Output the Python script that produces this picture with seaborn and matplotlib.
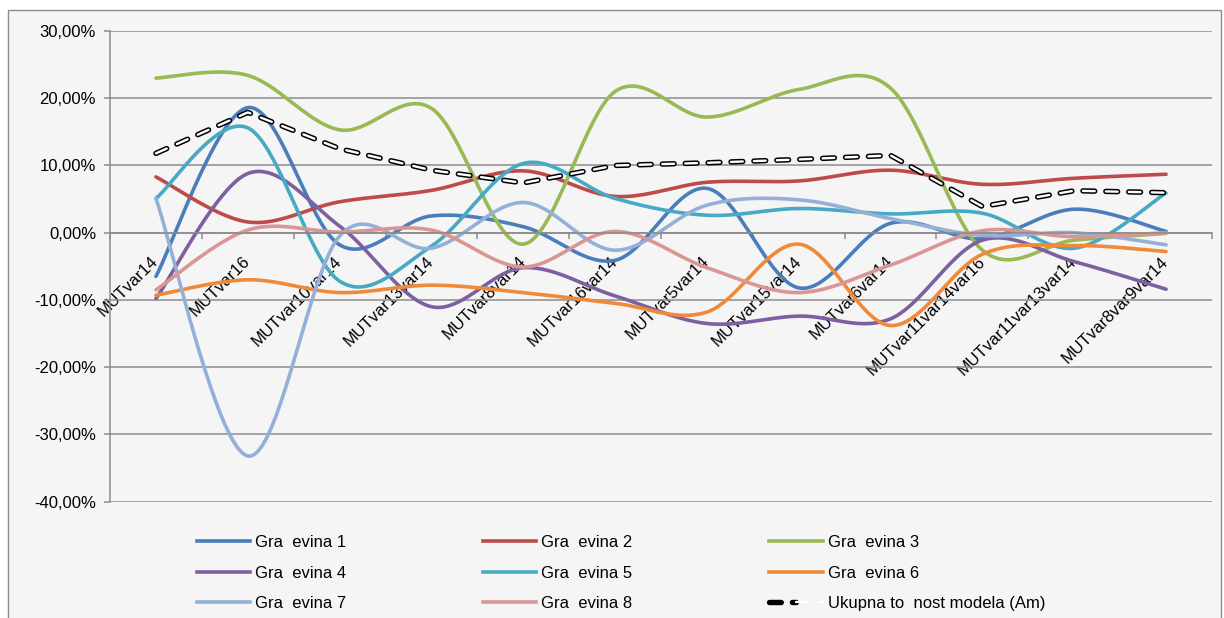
import numpy as np
import pandas as pd
import seaborn as sns
import matplotlib.pyplot as plt
from matplotlib.patches import Rectangle
from matplotlib.lines import Line2D
from matplotlib.legend_handler import HandlerTuple

# kategorije (x os)
categories = ['MUTvar14', 'MUTvar16', 'MUTvar10var14', 'MUTvar13var14', 'MUTvar8var14',
              'MUTvar16var14', 'MUTvar5var14', 'MUTvar15var14', 'MUTvar6var14',
              'MUTvar11var14var16', 'MUTvar11var13var14', 'MUTvar8var9var14']

# vrijednosti u %
gra1 = [-6.5, 18.6, -1.8, 2.5, 0.9, -4.1, 6.6, -8.2, 1.4, -0.9, 3.5, 0.2]
gra2 = [8.3, 1.6, 4.6, 6.3, 9.2, 5.4, 7.5, 7.7, 9.3, 7.2, 8.1, 8.7]
gra3 = [23.0, 23.4, 15.3, 18.5, -1.7, 21.0, 17.2, 21.3, 21.5, -2.6, -1.1, -0.1]
gra4 = [-9.8, 8.8, 1.0, -11.0, -5.2, -9.4, -13.5, -12.4, -12.8, -1.1, -4.3, -8.4]
gra5 = [5.1, 15.6, -7.2, -2.0, 10.3, 5.1, 2.6, 3.6, 2.8, 2.9, -2.3, 5.9]
gra6 = [-9.3, -7.0, -8.9, -7.8, -8.9, -10.5, -11.8, -1.7, -13.8, -3.2, -1.9, -2.8]
gra7 = [5.1, -33.2, -0.5, -2.3, 4.5, -2.6, 4.1, 4.9, 2.1, -0.4, 0.0, -1.8]
gra8 = [-8.5, 0.4, 0.1, 0.4, -5.1, 0.2, -5.2, -8.9, -4.8, 0.3, -0.6, 0.0]
ukupna = [11.8, 17.9, 12.5, 9.3, 7.4, 10.0, 10.4, 10.9, 11.5, 3.9, 6.25, 5.95]

series = [gra1, gra2, gra3, gra4, gra5, gra6, gra7, gra8]
names = ['Gra  evina 1', 'Gra  evina 2', 'Gra  evina 3', 'Gra  evina 4',
         'Gra  evina 5', 'Gra  evina 6', 'Gra  evina 7', 'Gra  evina 8']
ukupna_name = 'Ukupna to  nost modela (Am)'
colors = ['#4A7EBB', '#BE4B48', '#98B954', '#7D60A0',
          '#46AAC5', '#F08A38', '#94B0D9', '#D99694']

ytick_vals = [-40, -30, -20, -10, 0, 10, 20, 30]
ytick_labels = ['-40,00%', '-30,00%', '-20,00%', '-10,00%', '0,00%', '10,00%', '20,00%', '30,00%']

plt.rcParams['font.family'] = ['Liberation Sans', 'DejaVu Sans']
plt.rcParams['lines.scale_dashes'] = False


def smooth(y, n=40):
    # glatka linija kao u Excelu (Bezier segmenti, Catmull-Rom)
    p = np.column_stack([np.arange(len(y), dtype=float), np.asarray(y, dtype=float)])
    p = np.vstack([p[0], p, p[-1]])
    t = np.linspace(0, 1, n)[:, None]
    out = []
    for i in range(1, len(p) - 2):
        p0, p1, p2, p3 = p[i - 1], p[i], p[i + 1], p[i + 2]
        b1 = p1 + (p2 - p0) / 6
        b2 = p2 - (p3 - p1) / 6
        seg = (1 - t) ** 3 * p1 + 3 * (1 - t) ** 2 * t * b1 + 3 * (1 - t) * t ** 2 * b2 + t ** 3 * p2
        out.append(seg if i == 1 else seg[1:])
    out = np.vstack(out)
    return out[:, 0], out[:, 1]


W, H = 1224, 618
fig = plt.figure(figsize=(W / 100, H / 100), dpi=100, facecolor='white')
fig.patches.append(Rectangle((8 / W, -0.05), (1221 - 8) / W, 1.05 - 10 / H,
                             transform=fig.transFigure, facecolor='#f5f5f5',
                             edgecolor='#8c8c8c', lw=1, zorder=-10))

ax = fig.add_axes([110 / W, 1 - 501.7 / H, (1212 - 110) / W, (501.7 - 31) / H])
ax.set_facecolor('#f5f5f5')

lw = 2.6
for vals, c in zip(series, colors):
    xs, ys = smooth(vals)
    sns.lineplot(x=xs, y=ys, color=c, lw=lw, ax=ax, sort=False, estimator=None,
                 solid_capstyle='round')

# ukupna - iscrtkana "suplja" linija
dash = (0, (8.5, 8))
x_idx = np.arange(len(categories))
sns.lineplot(x=x_idx, y=ukupna, color='black', lw=3.9, ax=ax, sort=False, estimator=None,
             linestyle=dash, dash_capstyle='round')
sns.lineplot(x=x_idx, y=ukupna, color='white', lw=1.7, ax=ax, sort=False, estimator=None,
             linestyle=dash, dash_capstyle='round')

# osi
ax.set_ylim(-40, 30)
ax.set_yticks(ytick_vals)
ax.set_yticklabels(ytick_labels)
ax.set_xlim(-0.5, len(categories) - 0.5)
ax.set_xticks(np.arange(-0.5, len(categories), 1), minor=True)
ax.set_xticks(x_idx)
ax.set_xticklabels(categories)
ax.set_xlabel('')
ax.set_ylabel('')

ax.yaxis.grid(True, color='#8c8c8c', lw=1.1)
ax.set_axisbelow(True)
for s in ['top', 'right']:
    ax.spines[s].set_visible(False)
ax.spines['left'].set_color('#8c8c8c')
ax.spines['left'].set_linewidth(1.1)
ax.spines['bottom'].set_position(('data', 0))
ax.spines['bottom'].set_color('#8c8c8c')
ax.spines['bottom'].set_linewidth(1.1)
ax.tick_params(axis='y', direction='out', length=4, width=1.1, color='#8c8c8c',
               pad=6, labelsize=12, labelcolor='black')
ax.tick_params(axis='x', which='major', length=0, pad=19, labelsize=12, labelrotation=45)
ax.tick_params(axis='x', which='minor', direction='out', length=4, width=1.1, color='#8c8c8c')
plt.setp(ax.get_xticklabels(), ha='right', va='center', rotation_mode='anchor')

# legenda
handles = [Line2D([], [], color=c, lw=lw) for c in colors]
h_uk = (Line2D([], [], color='black', lw=3.9, linestyle=dash, dash_capstyle='round'),
        Line2D([], [], color='white', lw=1.7, linestyle=dash, dash_capstyle='round'))
handles.append(h_uk)
labels = names + [ukupna_name]
order = [0, 3, 6, 1, 4, 7, 2, 5, 8]
fig.legend([handles[i] for i in order], [labels[i] for i in order], ncol=3,
           loc='upper left', bbox_to_anchor=(197 / W, 1 - 535 / H), frameon=False,
           fontsize=12, handlelength=3.2, handletextpad=0.3, columnspacing=8.2,
           labelspacing=0.93, borderpad=0, borderaxespad=0,
           handler_map={tuple: HandlerTuple(ndivide=None, pad=0)})

fig.savefig('out.png', dpi=100, facecolor='white')
